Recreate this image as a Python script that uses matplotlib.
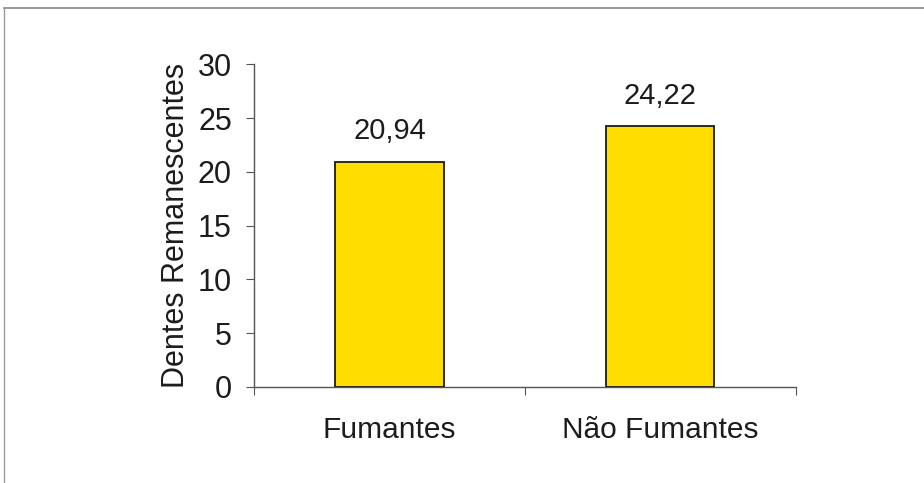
import matplotlib
matplotlib.use("Agg")
import matplotlib.pyplot as plt
from matplotlib.lines import Line2D

# dados do gráfico
grupos = ["Fumantes", "Não Fumantes"]
dentes = [20.94, 24.22]
rotulos = ["20,94", "24,22"]
yticks = [0, 5, 10, 15, 20, 25, 30]

plt.rcParams['font.family'] = ['Liberation Sans', 'DejaVu Sans']
cor_txt = '#1c1c1c'

fig = plt.figure(figsize=(9.24, 4.83), dpi=100)
ax = fig.add_axes([0.275, 0.199, 0.586, 0.668])

pos = list(range(len(grupos)))
barras = ax.bar(pos, dentes, width=0.4, color='#FFDD00', edgecolor='#1a1a1a', linewidth=1.3, zorder=3)

for b, txt in zip(barras, rotulos):
    ax.annotate(txt, (b.get_x() + b.get_width() / 2, b.get_height()),
                xytext=(0, 12), textcoords='offset points',
                ha='center', va='bottom', fontsize=21, color=cor_txt)

ax.set_xlim(-0.5, 1.5)
ax.set_ylim(0, 30)
ax.set_yticks(yticks)
ax.set_yticklabels([str(v) for v in yticks], fontsize=22, color=cor_txt)

# categorias no meio, marcas nas divisas
ax.set_xticks([-0.5, 0.5, 1.5])
ax.set_xticklabels([])
ax.set_xticks(pos, minor=True)
ax.set_xticklabels(grupos, minor=True, fontsize=21.5, color=cor_txt)
ax.tick_params(axis='x', which='minor', length=0, pad=21)
ax.tick_params(axis='x', which='major', length=6, direction='out', color='#555555')
ax.tick_params(axis='y', length=6, direction='out', color='#555555', pad=10)

for s in ['top', 'right']:
    ax.spines[s].set_visible(False)
for s in ['left', 'bottom']:
    ax.spines[s].set_color('#555555')
    ax.spines[s].set_linewidth(1.0)

ax.set_ylabel("Dentes Remanescentes", fontsize=22, color=cor_txt, labelpad=5)

# moldura (topo e esquerda)
fig.add_artist(Line2D([0.004, 1.0], [0.983, 0.983], color='#888888', lw=1.2))
fig.add_artist(Line2D([0.004, 0.004], [0.983, 0.0], color='#999999', lw=1.0))

fig.savefig("out.png", dpi=100)
